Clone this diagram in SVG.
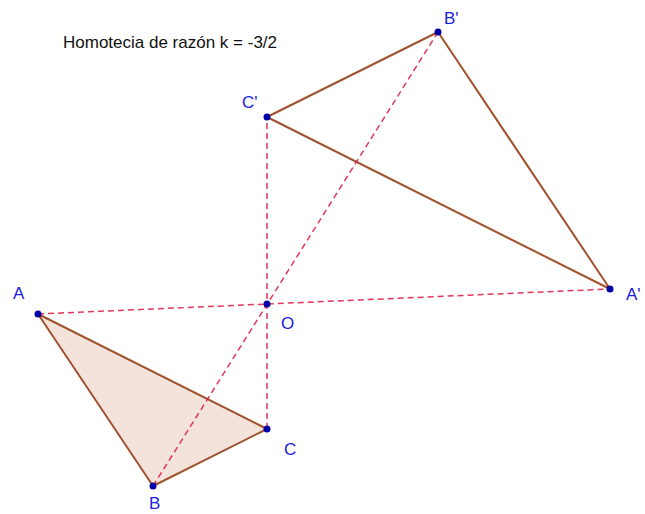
<svg xmlns="http://www.w3.org/2000/svg" width="645" height="514" viewBox="0 0 645 514">
<style>
.edge{stroke:#a0522d;stroke-width:2;fill:none;stroke-linejoin:round}
.dash{stroke:#dc143c;stroke-width:1.5;stroke-dasharray:6,4;fill:none;opacity:0.85}
.pt{fill:#0000a8}
.lbl{font-family:"Liberation Sans",Arial,sans-serif;font-size:17px;fill:#2020e0}
.title{font-family:"Liberation Sans",Arial,sans-serif;font-size:17px;fill:#111}
</style>
<rect width="645" height="514" fill="#fff"/>
<text class="title" x="63" y="48">Homotecia de razón k = -3/2</text>
<g id="triABC"><polygon points="38,314 153,486 267,429" class="edge" style="fill:#f3e3db"/></g>
<g id="triA2B2C2"><polygon points="610,289 438,32 267,117" class="edge"/></g>
<g id="connectors">
<line class="dash" x1="38" y1="314" x2="610" y2="289"/>
<line class="dash" x1="153" y1="486" x2="438" y2="32"/>
<line class="dash" x1="267" y1="429" x2="267" y2="117"/>
</g>
<g id="A"><circle class="pt" cx="38" cy="314" r="3.5"/><text class="lbl" x="13" y="299">A</text></g>
<g id="B"><circle class="pt" cx="153" cy="486" r="3.5"/><text class="lbl" x="149" y="509">B</text></g>
<g id="C"><circle class="pt" cx="267" cy="429" r="3.5"/><text class="lbl" x="284" y="455">C</text></g>
<g id="O"><circle class="pt" cx="267" cy="304" r="3.5"/><text class="lbl" x="281" y="329">O</text></g>
<g id="A2"><circle class="pt" cx="610" cy="289" r="3.5"/><text class="lbl" x="626" y="300">A'</text></g>
<g id="B2"><circle class="pt" cx="438" cy="32" r="3.5"/><text class="lbl" x="444" y="24">B'</text></g>
<g id="C2"><circle class="pt" cx="267" cy="117" r="3.5"/><text class="lbl" x="242" y="108">C'</text></g>
</svg>
